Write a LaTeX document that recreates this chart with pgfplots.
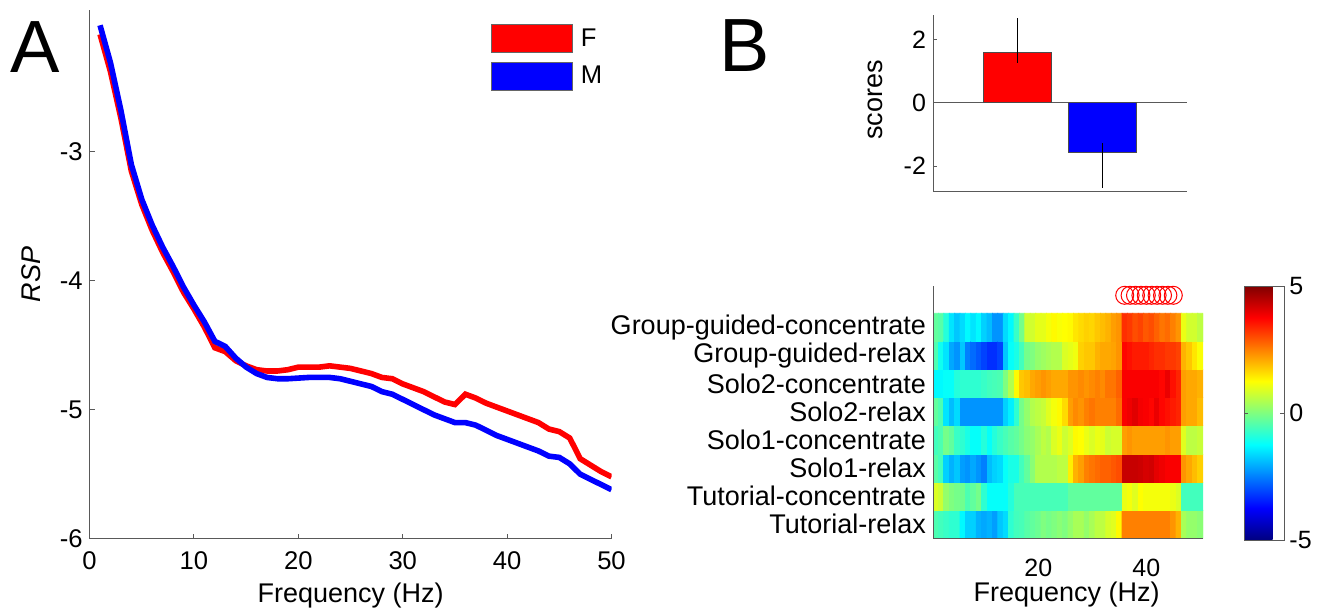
\documentclass[border=0pt]{standalone}
\usepackage{fontspec}
\setmainfont{Liberation Sans}
\usepackage{pgfplots}
\pgfplotsset{compat=1.18}
\begin{document}
\begin{tikzpicture}
\useasboundingbox (0,0) rectangle (661pt,306.5pt);
\pgfplotsset{
  mat/.style={scale only axis, anchor=south west,
    axis line style={-, black!65, line width=0.5pt},
    tick style={black!65, line width=0.5pt}, tick align=inside,
    /pgf/number format/assume math mode=true},
}
% ---------- A: spectra ----------
\begin{axis}[mat, at={(44.8pt,37.15pt)}, width=260.95pt, height=264.45pt,
  xmin=0, xmax=50, ymin=-6, ymax=-1.9,
  axis x line*=bottom, axis y line*=left,
  xtick={0,10,...,50}, ytick={-6,-5,-4,-3},
  major tick length=2.5pt,
  ticklabel style={font=\fontsize{12.8}{14}\selectfont},
  xticklabel style={yshift=-3pt},
  xlabel={Frequency (Hz)}, ylabel={\textit{RSP}},
  label style={font=\fontsize{13.5}{15}\selectfont},
  xlabel style={at={(axis description cs:0.5,0)}, anchor=base, yshift=-31.75pt},
  ylabel style={at={(axis description cs:-0.1112,0.5)}, anchor=center},
  legend style={draw=none, fill=none, inner sep=0pt, at={(axis description cs:0.768,0.973)}, anchor=north west,
    font=\fontsize{12.8}{14}\selectfont, row sep=4.5pt,
    /tikz/every odd column/.append style={column sep=2pt}},
  legend cell align=left,
  legend image code/.code={\filldraw[#1, draw=black!60, line width=0.4pt] (0pt,-6.95pt) rectangle (40.6pt,6.95pt);},
]
\addplot[red, line width=2.8pt] coordinates {
(1,-2.09) (2,-2.38) (3,-2.74) (4,-3.15) (5,-3.41) (6,-3.61) (7,-3.78) (8,-3.93) (9,-4.09) (10,-4.22)
(11,-4.36) (12,-4.52) (13,-4.55) (14,-4.62) (15,-4.66) (16,-4.69) (17,-4.70) (18,-4.70) (19,-4.69) (20,-4.67)
(21,-4.67) (22,-4.67) (23,-4.66) (24,-4.67) (25,-4.68) (26,-4.70) (27,-4.72) (28,-4.75) (29,-4.76) (30,-4.80)
(31,-4.83) (32,-4.86) (33,-4.90) (34,-4.94) (35,-4.96) (36,-4.88) (37,-4.91) (38,-4.95) (39,-4.98) (40,-5.01)
(41,-5.04) (42,-5.07) (43,-5.10) (44,-5.15) (45,-5.17) (46,-5.22) (47,-5.38) (48,-5.43) (49,-5.48) (50,-5.52)};
\addlegendentry{F}
\addplot[blue, line width=2.8pt] coordinates {
(1,-2.02) (2,-2.31) (3,-2.68) (4,-3.10) (5,-3.37) (6,-3.57) (7,-3.74) (8,-3.89) (9,-4.05) (10,-4.19)
(11,-4.32) (12,-4.47) (13,-4.51) (14,-4.60) (15,-4.67) (16,-4.72) (17,-4.75) (18,-4.76) (19,-4.76) (20,-4.755)
(21,-4.75) (22,-4.75) (23,-4.75) (24,-4.76) (25,-4.78) (26,-4.80) (27,-4.82) (28,-4.86) (29,-4.88) (30,-4.92)
(31,-4.96) (32,-5.00) (33,-5.04) (34,-5.07) (35,-5.10) (36,-5.10) (37,-5.12) (38,-5.16) (39,-5.20) (40,-5.23)
(41,-5.26) (42,-5.29) (43,-5.32) (44,-5.36) (45,-5.37) (46,-5.42) (47,-5.50) (48,-5.54) (49,-5.58) (50,-5.62)};
\addlegendentry{M}
\end{axis}
% ---------- B top: scores ----------
\begin{axis}[mat, at={(466.5pt,210.5pt)}, width=127pt, height=88.5pt,
  xmin=0, xmax=3, ymin=-2.82, ymax=2.77,
  axis x line*=bottom, axis y line*=left,
  xtick=\empty, ytick={-2,0,2}, major tick length=2pt,
  ticklabel style={font=\fontsize{12.5}{14}\selectfont},
  ylabel={scores},
  ylabel style={font=\fontsize{13.5}{15}\selectfont, at={(axis description cs:-0.2283,0.52)}, anchor=center},
]
\addplot[black!65, line width=0.5pt, forget plot] coordinates {(0,0) (3,0)};
\addplot[ybar, bar width=0.8, bar shift=0pt, fill=red, draw=black!70, line width=0.5pt,
  error bars/.cd, y dir=both, y explicit,
  error bar style={black, line width=0.5pt}, error mark options={black, mark size=1pt}]
  coordinates {(1,1.58) += (0,1.03) -= (0,0.25)};
\addplot[ybar, bar width=0.8, bar shift=0pt, fill=blue, draw=black!70, line width=0.5pt,
  error bars/.cd, y dir=both, y explicit,
  error bar style={black, line width=0.5pt}, error mark options={black, mark size=1pt}]
  coordinates {(2,-1.58) += (0,0.25) -= (0,1.04)};
\end{axis}
% ---------- B bottom: heat map ----------
\begin{axis}[mat, at={(466.5pt,37.35pt)}, width=135pt, height=125.9pt,
  xmin=0.5, xmax=50.5, ymin=0.5, ymax=9.453,
  axis x line*=bottom, axis y line*=left, axis on top,
  xtick={20,40}, ytick={1,...,8},
  yticklabels={Tutorial-relax,Tutorial-concentrate,Solo1-relax,Solo1-concentrate,Solo2-relax,Solo2-concentrate,Group-guided-relax,Group-guided-concentrate},
  major tick length=0pt,
  xticklabel style={font=\fontsize{12.5}{14}\selectfont, yshift=-7pt},
  yticklabel style={font=\fontsize{13.5}{15}\selectfont},
  xlabel={Frequency (Hz)},
  xlabel style={font=\fontsize{13.5}{15}\selectfont, at={(axis description cs:0.495,0)}, anchor=base, yshift=-31.5pt},
  colormap/jet, point meta min=-5, point meta max=5,
  colorbar,
  colorbar style={at={(parent axis.south east)}, anchor=south west, xshift=12pt, yshift=-0.85pt,
    scale only axis, width=20.15pt, height=127pt, ytick={-5,0,5},
    yticklabel style={font=\fontsize{12.5}{14}\selectfont, xshift=-1pt, /pgf/number format/assume math mode=true},
    axis line style={black!65}, tick style={black!65}, major tick length=2pt, tick align=inside},
]
\addplot[matrix plot*, mesh/cols=50, point meta=explicit] coordinates {
(1,1)[-0.5] (2,1)[-0.6] (3,1)[-0.7] (4,1)[-0.8] (5,1)[-0.8] (6,1)[-1.3] (7,1)[-1.7] (8,1)[-1.7] (9,1)[-2.0] (10,1)[-2.1] (11,1)[-2.0] (12,1)[-2.2] (13,1)[-1.8] (14,1)[-1.6] (15,1)[-0.8] (16,1)[-0.6] (17,1)[-0.55] (18,1)[-0.4] (19,1)[-0.3] (20,1)[-0.2] (21,1)[0.0] (22,1)[-0.1] (23,1)[0.0] (24,1)[0.1] (25,1)[0.0]
(26,1)[0.2] (27,1)[0.4] (28,1)[0.4] (29,1)[0.2] (30,1)[0.4] (31,1)[0.6] (32,1)[0.6] (33,1)[0.85] (34,1)[0.95] (35,1)[1.3] (36,1)[2.5] (37,1)[2.5] (38,1)[2.5] (39,1)[2.5] (40,1)[2.5] (41,1)[2.5] (42,1)[2.5] (43,1)[2.5] (44,1)[2.5] (45,1)[2.3] (46,1)[2.0] (47,1)[0.4] (48,1)[0.2] (49,1)[0.2] (50,1)[0.1]

(1,2)[0.9] (2,2)[0.75] (3,2)[0.2] (4,2)[0.0] (5,2)[-0.1] (6,2)[-0.15] (7,2)[-0.5] (8,2)[-0.3] (9,2)[-0.1] (10,2)[-0.8] (11,2)[-1.2] (12,2)[-1.2] (13,2)[-1.2] (14,2)[-1.2] (15,2)[-0.9] (16,2)[-0.55] (17,2)[-0.55] (18,2)[-0.55] (19,2)[-0.55] (20,2)[-0.55] (21,2)[-0.55] (22,2)[-0.55] (23,2)[-0.55] (24,2)[-0.55] (25,2)[-0.55]
(26,2)[-0.3] (27,2)[-0.3] (28,2)[-0.3] (29,2)[-0.3] (30,2)[-0.3] (31,2)[-0.3] (32,2)[-0.3] (33,2)[-0.3] (34,2)[-0.3] (35,2)[-0.3] (36,2)[1.05] (37,2)[1.15] (38,2)[0.95] (39,2)[1.25] (40,2)[1.15] (41,2)[1.15] (42,2)[1.15] (43,2)[1.15] (44,2)[1.15] (45,2)[1.05] (46,2)[0.9] (47,2)[-0.6] (48,2)[-0.6] (49,2)[-0.6] (50,2)[-0.6]

(1,3)[-0.4] (2,3)[-0.6] (3,3)[-1.7] (4,3)[-2.0] (5,3)[-1.8] (6,3)[-2.2] (7,3)[-2.3] (8,3)[-2.1] (9,3)[-2.3] (10,3)[-2.5] (11,3)[-1.9] (12,3)[-1.7] (13,3)[-1.6] (14,3)[-1.2] (15,3)[-1.0] (16,3)[-1.0] (17,3)[-0.6] (18,3)[-0.3] (19,3)[0.1] (20,3)[0.5] (21,3)[0.5] (22,3)[0.5] (23,3)[0.5] (24,3)[0.6] (25,3)[0.6]
(26,3)[1.4] (27,3)[2.0] (28,3)[2.2] (29,3)[2.5] (30,3)[2.6] (31,3)[2.7] (32,3)[2.8] (33,3)[2.8] (34,3)[2.9] (35,3)[3.0] (36,3)[4.3] (37,3)[4.3] (38,3)[4.3] (39,3)[4.25] (40,3)[4.15] (41,3)[4.2] (42,3)[4.0] (43,3)[3.9] (44,3)[3.8] (45,3)[3.8] (46,3)[3.8] (47,3)[2.3] (48,3)[2.1] (49,3)[1.9] (50,3)[1.7]

(1,4)[-0.6] (2,4)[-0.5] (3,4)[-0.1] (4,4)[-0.3] (5,4)[-0.7] (6,4)[-0.8] (7,4)[-1.0] (8,4)[-1.2] (9,4)[-1.2] (10,4)[-0.9] (11,4)[-1.2] (12,4)[-0.9] (13,4)[-0.7] (14,4)[-0.55] (15,4)[-0.4] (16,4)[-0.3] (17,4)[-0.1] (18,4)[0.1] (19,4)[0.2] (20,4)[0.4] (21,4)[0.6] (22,4)[0.5] (23,4)[0.9] (24,4)[1.05] (25,4)[0.75]
(26,4)[0.95] (27,4)[1.3] (28,4)[1.25] (29,4)[1.05] (30,4)[0.9] (31,4)[1.05] (32,4)[1.0] (33,4)[0.75] (34,4)[0.85] (35,4)[0.85] (36,4)[2.2] (37,4)[2.3] (38,4)[2.2] (39,4)[2.2] (40,4)[2.2] (41,4)[2.2] (42,4)[2.2] (43,4)[2.2] (44,4)[2.3] (45,4)[2.2] (46,4)[2.2] (47,4)[0.95] (48,4)[0.6] (49,4)[0.6] (50,4)[0.7]

(1,5)[-0.3] (2,5)[-0.5] (3,5)[-1.5] (4,5)[-1.9] (5,5)[-1.6] (6,5)[-2.3] (7,5)[-2.3] (8,5)[-2.3] (9,5)[-2.3] (10,5)[-2.3] (11,5)[-2.3] (12,5)[-2.3] (13,5)[-2.3] (14,5)[-1.7] (15,5)[-1.4] (16,5)[-0.8] (17,5)[-0.1] (18,5)[0.2] (19,5)[0.5] (20,5)[0.6] (21,5)[0.7] (22,5)[0.95] (23,5)[1.15] (24,5)[1.3] (25,5)[1.6]
(26,5)[2.2] (27,5)[2.4] (28,5)[2.3] (29,5)[2.5] (30,5)[2.6] (31,5)[2.5] (32,5)[2.5] (33,5)[2.5] (34,5)[2.5] (35,5)[2.7] (36,5)[3.8] (37,5)[3.9] (38,5)[4.05] (39,5)[3.85] (40,5)[3.8] (41,5)[3.7] (42,5)[3.95] (43,5)[3.7] (44,5)[3.6] (45,5)[3.5] (46,5)[3.4] (47,5)[2.2] (48,5)[2.1] (49,5)[2.1] (50,5)[1.9]

(1,6)[-1.3] (2,6)[-1.3] (3,6)[-1.2] (4,6)[-1.2] (5,6)[-0.9] (6,6)[-0.8] (7,6)[-0.8] (8,6)[-0.8] (9,6)[-0.8] (10,6)[-0.7] (11,6)[-0.6] (12,6)[-0.55] (13,6)[-0.5] (14,6)[0.0] (15,6)[0.5] (16,6)[1.3] (17,6)[1.8] (18,6)[1.9] (19,6)[2.1] (20,6)[2.2] (21,6)[2.3] (22,6)[2.2] (23,6)[2.1] (24,6)[2.1] (25,6)[2.1]
(26,6)[2.3] (27,6)[2.3] (28,6)[2.4] (29,6)[2.3] (30,6)[2.4] (31,6)[2.5] (32,6)[2.4] (33,6)[2.6] (34,6)[2.6] (35,6)[2.8] (36,6)[3.8] (37,6)[3.8] (38,6)[3.8] (39,6)[3.8] (40,6)[3.8] (41,6)[3.8] (42,6)[3.8] (43,6)[3.7] (44,6)[3.95] (45,6)[3.6] (46,6)[3.4] (47,6)[2.2] (48,6)[2.1] (49,6)[2.1] (50,6)[2.0]

(1,7)[-0.5] (2,7)[-1.1] (3,7)[-1.5] (4,7)[-2.1] (5,7)[-2.3] (6,7)[-1.8] (7,7)[-2.5] (8,7)[-2.7] (9,7)[-2.9] (10,7)[-3.1] (11,7)[-3.3] (12,7)[-3.3] (13,7)[-3.1] (14,7)[-1.8] (15,7)[-1.2] (16,7)[-1.0] (17,7)[-0.6] (18,7)[-0.1] (19,7)[0.0] (20,7)[0.2] (21,7)[0.3] (22,7)[0.4] (23,7)[0.5] (24,7)[0.5] (25,7)[0.9]
(26,7)[1.0] (27,7)[1.1] (28,7)[1.7] (29,7)[1.8] (30,7)[1.8] (31,7)[2.0] (32,7)[2.1] (33,7)[2.1] (34,7)[2.15] (35,7)[2.3] (36,7)[3.7] (37,7)[3.6] (38,7)[3.5] (39,7)[3.5] (40,7)[3.5] (41,7)[3.4] (42,7)[3.3] (43,7)[3.3] (44,7)[3.2] (45,7)[3.2] (46,7)[3.1] (47,7)[2.0] (48,7)[1.8] (49,7)[1.5] (50,7)[1.2]

(1,8)[-0.3] (2,8)[-0.4] (3,8)[-0.9] (4,8)[-1.5] (5,8)[-1.8] (6,8)[-1.6] (7,8)[-1.3] (8,8)[-1.5] (9,8)[-1.3] (10,8)[-1.7] (11,8)[-1.9] (12,8)[-2.3] (13,8)[-2.3] (14,8)[-1.6] (15,8)[-1.3] (16,8)[-0.7] (17,8)[-0.1] (18,8)[0.8] (19,8)[0.8] (20,8)[1.0] (21,8)[1.0] (22,8)[1.15] (23,8)[1.3] (24,8)[1.2] (25,8)[1.25]
(26,8)[1.3] (27,8)[1.5] (28,8)[1.6] (29,8)[1.7] (30,8)[1.65] (31,8)[1.8] (32,8)[1.9] (33,8)[2.0] (34,8)[2.2] (35,8)[2.3] (36,8)[3.3] (37,8)[3.2] (38,8)[3.0] (39,8)[3.1] (40,8)[2.9] (41,8)[3.0] (42,8)[2.8] (43,8)[2.6] (44,8)[2.7] (45,8)[2.5] (46,8)[2.3] (47,8)[1.05] (48,8)[0.8] (49,8)[0.8] (50,8)[0.6]
};
\addplot[only marks, mark=o, mark size=4.5pt, red, mark options={line width=0.5pt}] coordinates {
(36,9.14) (37,9.14) (38,9.14) (39,9.14) (40,9.14) (41,9.14) (42,9.14) (43,9.14) (44,9.14) (45,9.14)};
\end{axis}
\node[anchor=base west, inner sep=0pt, font=\fontsize{37}{38}\selectfont] at (5.25pt,270.35pt) {A};
\node[anchor=base west, inner sep=0pt, font=\fontsize{37.7}{38}\selectfont] at (359.5pt,270.5pt) {B};
\end{tikzpicture}
\end{document}
